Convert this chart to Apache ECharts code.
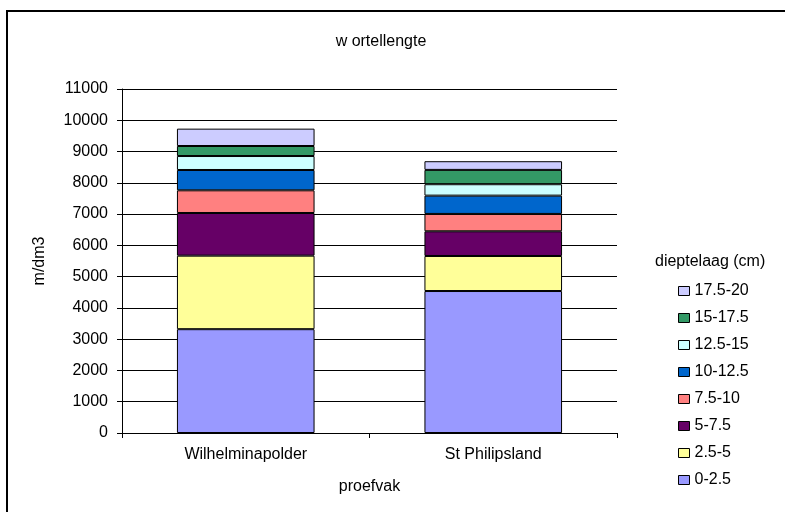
<!DOCTYPE html>
<html>
<head>
<meta charset="utf-8">
<script src="https://cdn.jsdelivr.net/npm/echarts@6/dist/echarts.min.js"></script>
<style>
  html, body { margin: 0; padding: 0; background: #fff; }
  #chart { width: 785px; height: 512px; }
</style>
</head>
<body>
<div id="chart"></div>
<script>
// Root length per depth layer (m/dm3) for two test fields
const categories = ['Wilhelminapolder', 'St Philipsland'];
const layerNames = ['0-2.5', '2.5-5', '5-7.5', '7.5-10', '10-12.5', '12.5-15', '15-17.5', '17.5-20'];
const layer0_2_5   = [3320, 4540];
const layer2_5_5   = [2350, 1120];
const layer5_7_5   = [1365, 790];
const layer7_5_10  = [725, 555];
const layer10_12_5 = [650, 585];
const layer12_5_15 = [447, 365];
const layer15_17_5 = [320, 458];
const layer17_5_20 = [555, 278];
const layerValues = [layer0_2_5, layer2_5_5, layer5_7_5, layer7_5_10, layer10_12_5, layer12_5_15, layer15_17_5, layer17_5_20];
const layerColors = ['#9999FF', '#FFFF99', '#660066', '#FF8080', '#0066CC', '#CCFFFF', '#339966', '#CCCCFF'];
const yTicks = { min: 0, max: 11000, interval: 1000 };

const font = 'Liberation Sans, Arial, sans-serif';
const fs = 16;
const chart = echarts.init(document.getElementById('chart'));

const series = layerNames.map((name, i) => ({
  name: name,
  type: 'bar',
  stack: 'total',
  barWidth: '55.6%',
  data: layerValues[i],
  itemStyle: { color: layerColors[i], borderColor: '#000', borderWidth: 1 },
  emphasis: { disabled: true }
}));

chart.setOption({
  animation: false,
  textStyle: { fontFamily: font },
  title: [
    {
      text: 'w ortellengte',
      left: 381, top: 34, textAlign: 'center', padding: 0,
      textStyle: { fontSize: fs, fontWeight: 'normal', color: '#000', fontFamily: font }
    },
    {
      text: 'dieptelaag (cm)',
      left: 655, top: 254, padding: 0,
      textStyle: { fontSize: fs, fontWeight: 'normal', color: '#000', fontFamily: font }
    }
  ],
  graphic: [{
    type: 'rect',
    shape: { x: 7, y: 11, width: 800, height: 540 },
    style: { fill: 'none', stroke: '#000', lineWidth: 2 },
    silent: true
  }],
  legend: {
    orient: 'vertical',
    left: 678, top: 283, padding: 0,
    data: layerNames.slice().reverse(),
    itemWidth: 11, itemHeight: 9, itemGap: 11,
    icon: 'rect',
    selectedMode: false,
    itemStyle: { borderColor: '#000', borderWidth: 1 },
    textStyle: { fontSize: fs, color: '#000', lineHeight: 16, fontFamily: font }
  },
  grid: { left: 122, right: 168, top: 89, bottom: 79, containLabel: false },
  xAxis: {
    type: 'category',
    data: categories,
    name: 'proefvak',
    nameLocation: 'middle',
    nameGap: 46,
    nameTextStyle: { fontSize: fs, color: '#000', fontFamily: font },
    axisLine: { lineStyle: { color: '#000', width: 1 } },
    axisTick: { show: true, length: 5, lineStyle: { color: '#000' } },
    axisLabel: { fontSize: fs, color: '#000', margin: 14, fontFamily: font }
  },
  yAxis: {
    type: 'value',
    min: yTicks.min, max: yTicks.max, interval: yTicks.interval,
    name: 'm/dm3',
    nameLocation: 'middle',
    nameGap: 74,
    nameTextStyle: { fontSize: fs, color: '#000', fontFamily: font },
    axisLine: { show: true, lineStyle: { color: '#000', width: 1 } },
    axisTick: { show: true, length: 5, lineStyle: { color: '#000' } },
    axisLabel: { fontSize: fs, color: '#000', margin: 14, fontFamily: font, formatter: v => String(v) },
    splitLine: { show: true, lineStyle: { color: '#000', width: 1 } }
  },
  series: series
});
</script>
</body>
</html>
